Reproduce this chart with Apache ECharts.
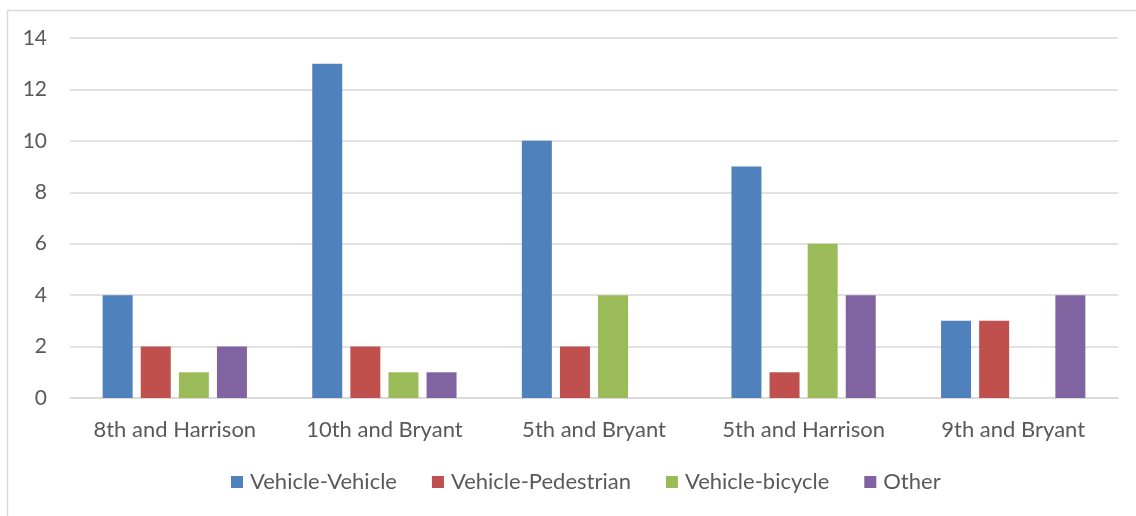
<!DOCTYPE html>
<html>
<head>
<meta charset="utf-8">
<script src="https://cdn.jsdelivr.net/npm/echarts@6/dist/echarts.min.js"></script>
<style>
  html, body { margin: 0; padding: 0; background: #fff; }
  #chart { width: 1136px; height: 516px; }
</style>
</head>
<body>
<div id="chart"></div>
<script>
const categories = ['8th and Harrison', '10th and Bryant', '5th and Bryant', '5th and Harrison', '9th and Bryant'];
const vehicleVehicle = [4, 13, 10, 9, 3];
const vehiclePedestrian = [2, 2, 2, 1, 3];
const vehicleBicycle = [1, 1, 4, 6, null];
const other = [2, 1, null, 4, 4];

const font = 'Lato';
const textColor = '#595959';

let myChart = echarts.init(document.getElementById('chart'));
myChart.setOption({
  animation: false,
  color: ['#4F81BD', '#C0504D', '#9BBB59', '#8064A2'],
  textStyle: { fontFamily: font },
  graphic: [{
    type: 'rect',
    left: 5,
    top: 8,
    shape: { width: 1300, height: 700 },
    style: { fill: 'none', stroke: '#D9D9D9', lineWidth: 1.5 },
    silent: true
  }],
  grid: {
    left: 70,
    right: 18,
    top: 38,
    bottom: 118
  },
  legend: {
    data: ['Vehicle-Vehicle', 'Vehicle-Pedestrian', 'Vehicle-bicycle', 'Other'],
    bottom: 18,
    left: 226,
    icon: 'rect',
    itemWidth: 12,
    itemHeight: 12,
    itemGap: 35,
    textStyle: { fontFamily: font, fontSize: 22, color: textColor, padding: [0, 0, 0, 2] }
  },
  xAxis: {
    type: 'category',
    data: categories,
    axisLine: { lineStyle: { color: '#D9D9D9', width: 1.5 } },
    axisTick: { show: false },
    axisLabel: { interval: 0, fontFamily: font, fontSize: 22, color: textColor, margin: 21 }
  },
  yAxis: {
    type: 'value',
    min: 0,
    max: 14,
    interval: 2,
    axisLine: { show: false },
    axisTick: { show: false },
    splitLine: { lineStyle: { color: '#D9D9D9', width: 1.5 } },
    axisLabel: { fontFamily: font, fontSize: 21, color: textColor, margin: 23 }
  },
  series: [
    { name: 'Vehicle-Vehicle', type: 'bar', data: vehicleVehicle, barWidth: 30, barGap: '27%' },
    { name: 'Vehicle-Pedestrian', type: 'bar', data: vehiclePedestrian, barWidth: 30, barGap: '27%' },
    { name: 'Vehicle-bicycle', type: 'bar', data: vehicleBicycle, barWidth: 30, barGap: '27%' },
    { name: 'Other', type: 'bar', data: other, barWidth: 30, barGap: '27%' }
  ]
});
</script>
</body>
</html>
